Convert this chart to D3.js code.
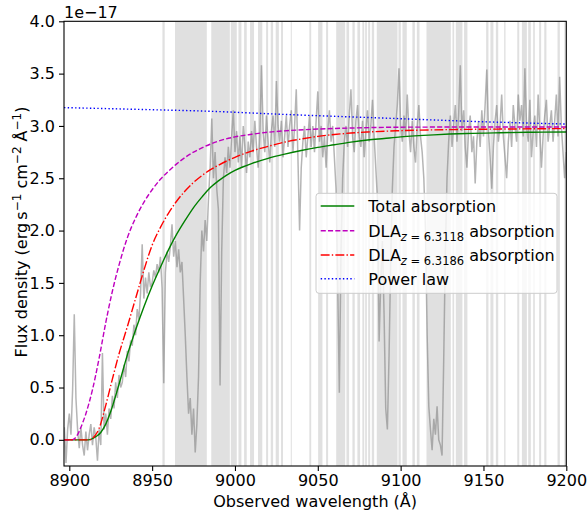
<!DOCTYPE html>
<html>
<head>
<meta charset="utf-8">
<script src="https://cdn.jsdelivr.net/npm/d3@7"></script>
<style>
  body { margin: 0; background: #fff; }
  svg { font-family: "DejaVu Sans", sans-serif; }
</style>
</head>
<body>
<svg id="chart" width="587" height="513"></svg>
<script>
// ticks
const xTicks = [8900, 8950, 9000, 9050, 9100, 9150, 9200];
const yTicks = [0, 0.5, 1.0, 1.5, 2.0, 2.5, 3.0, 3.5, 4.0];

// masked sky-line regions [start, end] in Angstrom
const skyBands = [
  [8956.2, 8957.6], [8963.8, 8983.0], [8985.7, 8996.9], [8997.5, 9001.1],
  [9002.1, 9003.9], [9005.5, 9007.1], [9009.1, 9011.5], [9013.9, 9016.5],
  [9018.8, 9020.0], [9021.6, 9023.0], [9024.6, 9026.5], [9027.8, 9029.0],
  [9033.7, 9034.3], [9044.9, 9046.0], [9050.2, 9052.8], [9055.0, 9056.2],
  [9061.1, 9066.5], [9067.3, 9068.9], [9070.9, 9072.3], [9073.9, 9075.5],
  [9076.9, 9078.0], [9078.6, 9079.6], [9080.4, 9081.6], [9082.6, 9084.0],
  [9085.6, 9098.1], [9098.7, 9100.1], [9101.1, 9103.7], [9107.1, 9108.6],
  [9109.8, 9111.4], [9115.6, 9130.3], [9131.3, 9132.3], [9133.3, 9137.3],
  [9138.3, 9140.3], [9151.6, 9153.0], [9154.2, 9156.0], [9157.5, 9158.9],
  [9162.5, 9163.3], [9170.4, 9171.6], [9173.2, 9176.2], [9177.0, 9178.6],
  [9180.0, 9181.0], [9183.6, 9184.8], [9186.7, 9188.0], [9194.7, 9196.1],
  [9198.8, 9200.0]
];

// observed spectrum, in units of 1e-17, one value per Angstrom from 8897
const specStart = 8897;
const specStep = 1;
const specFlux = [
  0.12, -0.22, 0.1, 0.25, 0.05, 0.48, 1.2, 0.4, 0.1, -0.08,
  0.12, -0.05, -0.15, 0.08, -0.1, 0.05, 0.15, -0.05, 0.12, 0.02,
  -0.2, 0.1, -0.05, 0.83, 0.1, 0.25, 0.05, 0.3, 0.2, 0.42,
  0.3, 0.55, 0.4, 0.62, 0.5, 0.55, 0.72, 0.6, 0.85, 0.75,
  0.95, 0.9, 1.1, 1.0, 1.25, 1.15, 1.4, 1.87, 1.35, 1.55,
  1.4, 1.6, 1.46, 1.5, 1.62, 1.55, 1.68, 1.6, 1.75, 1.45,
  0.54, 1.6, 1.8, 1.7, 1.85, 2.06, 1.75, 1.9, 1.65, 1.82,
  1.6, 1.7, 1.35, 1.0, 0.6, 0.25, 0.4, 0.05, 0.3, -0.12,
  0.15, 0.6, 1.5, 2.0, 1.8, 2.1, 1.9, 2.3, 2.6, 3.07,
  2.5, 2.75, 2.4, 2.2, 0.52, 1.8, 2.5, 2.7, 2.55, 2.8,
  2.6, 2.9, 3.15, 2.75, 2.95, 2.65, 2.9, 2.6, 3.0, 2.8,
  2.55, 2.85, 2.7, 2.95, 2.75, 3.05, 2.8, 2.6, 2.9, 3.58,
  2.95, 2.75, 3.1, 2.85, 2.65, 2.95, 3.1, 2.8, 3.43, 3.0,
  2.85, 3.05, 2.7, 2.9, 3.1, 2.8, 3.0, 3.15, 2.75, 3.0,
  3.35, 2.7, 2.0, 2.6, 2.85, 3.0, 2.7, 2.9, 3.1, 2.8,
  3.0, 2.75, 3.05, 3.33, 2.85, 3.0, 2.7, 2.9, 2.6, 2.95,
  3.15, 2.85, 3.0, 2.7, 2.4, 1.5, 0.45, 1.8, 2.5, 2.85,
  3.0, 2.8, 3.1, 3.35, 2.9, 2.75, 3.05, 3.2, 2.9, 2.8,
  3.05, 2.7, 2.95, 3.15, 2.85, 3.0, 3.25, 2.9, 2.6, 2.3,
  0.94, 1.5, 1.9, 1.2, 0.3, 0.1, 0.8, 1.7, 2.4, 2.8,
  3.0, 3.2, 3.55, 3.0, 2.85, 3.1, 2.9, 3.3, 2.95, 2.75,
  3.05, 2.8, 2.65, 3.0, 3.2, 2.9, 2.75, 2.5, 2.0, 1.0,
  0.32, 0.1, -0.1, 0.2, 0.05, 0.32, 0.0, -0.05, -0.15, 0.76,
  1.8, 2.5, 2.85, 3.1, 2.8, 3.0, 3.2, 2.85, 3.1, 3.58,
  2.95, 3.15, 2.8, 2.6, 2.95, 3.1, 2.75, 2.9, 2.45, 2.85,
  3.05, 2.8, 3.15, 2.9, 3.2, 3.54, 2.95, 2.7, 2.4, 2.8,
  3.05, 3.2, 2.85, 3.0, 3.3, 2.9, 2.7, 2.5, 2.85, 3.05,
  2.8, 3.2, 3.0, 2.85, 3.3, 3.05, 3.2, 2.9, 3.55, 3.0,
  2.85, 3.25, 2.7, 2.95, 3.1, 2.8, 3.3, 2.95, 2.6, 2.9,
  3.1, 3.25, 2.85, 3.0, 3.15, 2.85, 3.05, 3.3, 2.9, 3.47,
  3.0, 2.75, 2.5, 2.75
];

// model curves [wavelength, flux]
const totalModel = [
  [8896.8, 0], [8910, 0], [8913, 0.005], [8916, 0.03], [8919, 0.07], [8922, 0.15],
  [8925, 0.27], [8930, 0.53], [8935, 0.81], [8940, 1.05], [8945, 1.27], [8950, 1.47],
  [8955, 1.65], [8960, 1.82], [8965, 1.97], [8970, 2.10], [8975, 2.22], [8980, 2.32],
  [8985, 2.41], [8990, 2.475], [8995, 2.53], [9000, 2.575], [9005, 2.61], [9010, 2.64],
  [9020, 2.69], [9030, 2.73], [9040, 2.765], [9050, 2.795], [9060, 2.82], [9070, 2.845],
  [9080, 2.865], [9090, 2.88], [9100, 2.895], [9120, 2.915], [9140, 2.928], [9160, 2.935],
  [9180, 2.94], [9200, 2.942]
];
const dlaA = [
  [8896.8, 0], [8901, 0], [8903, 0.01], [8905, 0.05], [8907, 0.12], [8910, 0.25],
  [8914, 0.48], [8918, 0.78], [8922, 1.12], [8926, 1.42], [8930, 1.67], [8935, 1.93],
  [8940, 2.12], [8945, 2.27], [8950, 2.39], [8955, 2.49], [8960, 2.57], [8965, 2.64],
  [8970, 2.70], [8975, 2.75], [8980, 2.79], [8985, 2.825], [8990, 2.855], [9000, 2.895],
  [9010, 2.92], [9020, 2.94], [9030, 2.953], [9050, 2.97], [9070, 2.98], [9100, 2.988],
  [9150, 2.99], [9200, 2.99]
];
const dlaB = [
  [8896.8, 0], [8912, 0], [8915, 0.03], [8918, 0.11], [8922, 0.33], [8926, 0.58],
  [8930, 0.82], [8935, 1.08], [8940, 1.35], [8945, 1.62], [8950, 1.86], [8955, 2.03],
  [8960, 2.17], [8965, 2.285], [8970, 2.38], [8975, 2.46], [8980, 2.525], [8985, 2.58],
  [8990, 2.625], [8995, 2.665], [9000, 2.70], [9010, 2.76], [9020, 2.805], [9030, 2.845],
  [9040, 2.875], [9050, 2.90], [9060, 2.918], [9070, 2.932], [9080, 2.942], [9100, 2.955],
  [9130, 2.965], [9160, 2.97], [9200, 2.975]
];
const powerLaw = [
  [8896.8, 3.175], [8950, 3.155], [8985, 3.14], [9030, 3.11], [9090, 3.075],
  [9150, 3.04], [9200, 3.018]
];

const svg = d3.select('#chart');
const plotLeft = 64, plotTop = 21.3, plotRight = 566.3, plotBottom = 466;

const x = d3.scaleLinear().domain([8896.8, 9200]).range([plotLeft, plotRight]);
const y = d3.scaleLinear().domain([-0.25, 4.0]).range([plotBottom, plotTop]);

svg.append('defs').append('clipPath').attr('id', 'plot-clip')
  .append('rect')
  .attr('x', plotLeft).attr('y', plotTop)
  .attr('width', plotRight - plotLeft).attr('height', plotBottom - plotTop);

const plot = svg.append('g').attr('clip-path', 'url(#plot-clip)');

// sky bands
plot.selectAll('rect.band')
  .data(skyBands)
  .enter()
  .append('rect')
  .attr('class', 'band')
  .attr('x', d => x(d[0]))
  .attr('width', d => Math.max(0.6, x(d[1]) - x(d[0])))
  .attr('y', plotTop)
  .attr('height', plotBottom - plotTop)
  .attr('fill', '#d3d3d3')
  .attr('opacity', 0.7);

// spectrum
const spec = specFlux.map((v, i) => [specStart + i * specStep, v]);
const line = d3.line().x(d => x(d[0])).y(d => y(d[1]));
const smooth = d3.line().x(d => x(d[0])).y(d => y(d[1])).curve(d3.curveMonotoneX);

plot.append('path')
  .datum(spec)
  .attr('d', line)
  .attr('fill', 'none')
  .attr('stroke', 'gray')
  .attr('stroke-opacity', 0.58)
  .attr('stroke-width', 1.5);

const series = [
  { data: totalModel, color: 'green', dash: null, label: 'Total absorption' },
  { data: dlaA, color: '#bf00bf', dash: '5.1,2.2', label: 'DLA', z: '6.3118' },
  { data: dlaB, color: 'red', dash: '8.9,2.2,1.4,2.2', label: 'DLA', z: '6.3186' },
  { data: powerLaw, color: 'blue', dash: '1.4,2.3', label: 'Power law' }
];

series.forEach(s => {
  plot.append('path')
    .datum(s.data)
    .attr('d', smooth)
    .attr('fill', 'none')
    .attr('stroke', s.color)
    .attr('stroke-width', 1.4)
    .attr('stroke-dasharray', s.dash);
});

// axes
const xAxis = d3.axisBottom(x).tickValues(xTicks).tickSize(5).tickPadding(4).tickFormat(d3.format('d'));
const yAxis = d3.axisLeft(y).tickValues(yTicks).tickSize(5).tickPadding(4).tickFormat(d3.format('.1f'));

const gx = svg.append('g').attr('transform', `translate(0,${plotBottom})`).call(xAxis);
const gy = svg.append('g').attr('transform', `translate(${plotLeft},0)`).call(yAxis);
[gx, gy].forEach(g => {
  g.select('.domain').remove();
  g.selectAll('.tick line').attr('stroke', '#000').attr('stroke-width', 1.1);
  g.selectAll('.tick text').attr('fill', '#000').style('font-size', '16px')
    .style('font-family', '"DejaVu Sans", sans-serif');
});

svg.append('rect')
  .attr('x', plotLeft).attr('y', plotTop)
  .attr('width', plotRight - plotLeft).attr('height', plotBottom - plotTop)
  .attr('fill', 'none').attr('stroke', '#000').attr('stroke-width', 1.1);

// offset text
svg.append('text').attr('x', plotLeft).attr('y', 18)
  .style('font-size', '16px').text('1e\u221217');

// axis labels
svg.append('text')
  .attr('x', (plotLeft + plotRight) / 2).attr('y', 507)
  .attr('text-anchor', 'middle')
  .style('font-size', '16px')
  .text('Observed wavelength (\u00c5)');

const yl = svg.append('text')
  .attr('transform', 'translate(27,232) rotate(-90)')
  .attr('text-anchor', 'middle')
  .style('font-size', '16px');
yl.append('tspan').text('Flux density (erg\u2009s');
yl.append('tspan').attr('dy', -6).style('font-size', '12px').text('\u22121');
yl.append('tspan').attr('dy', 6).text(' cm');
yl.append('tspan').attr('dy', -6).style('font-size', '12px').text('\u22122');
yl.append('tspan').attr('dy', 6).text(' \u00c5');
yl.append('tspan').attr('dy', -6).style('font-size', '12px').text('\u22121');
yl.append('tspan').attr('dy', 6).text(')');

// legend
const lg = svg.append('g');
lg.append('rect')
  .attr('x', 316).attr('y', 193.3)
  .attr('width', 241).attr('height', 100)
  .attr('rx', 3)
  .attr('fill', '#fff').attr('fill-opacity', 0.8)
  .attr('stroke', '#cccccc').attr('stroke-width', 1);

const rowY = [206, 230.7, 255, 278.7];
series.forEach((s, i) => {
  lg.append('line')
    .attr('x1', 320.7).attr('x2', 354.3)
    .attr('y1', rowY[i]).attr('y2', rowY[i])
    .attr('stroke', s.color).attr('stroke-width', 1.4)
    .attr('stroke-dasharray', s.dash);
  const t = lg.append('text')
    .attr('x', 368.3).attr('y', rowY[i] + 5.8)
    .style('font-size', '16px');
  if (s.z) {
    t.append('tspan').text(s.label);
    const sub = t.append('tspan').attr('dy', 4).style('font-size', '11.5px');
    sub.append('tspan').style('font-style', 'italic').text('z');
    sub.append('tspan').text(' = ' + s.z);
    t.append('tspan').attr('dy', -4).text(' absorption');
  } else {
    t.text(s.label);
  }
});
</script>
</body>
</html>
